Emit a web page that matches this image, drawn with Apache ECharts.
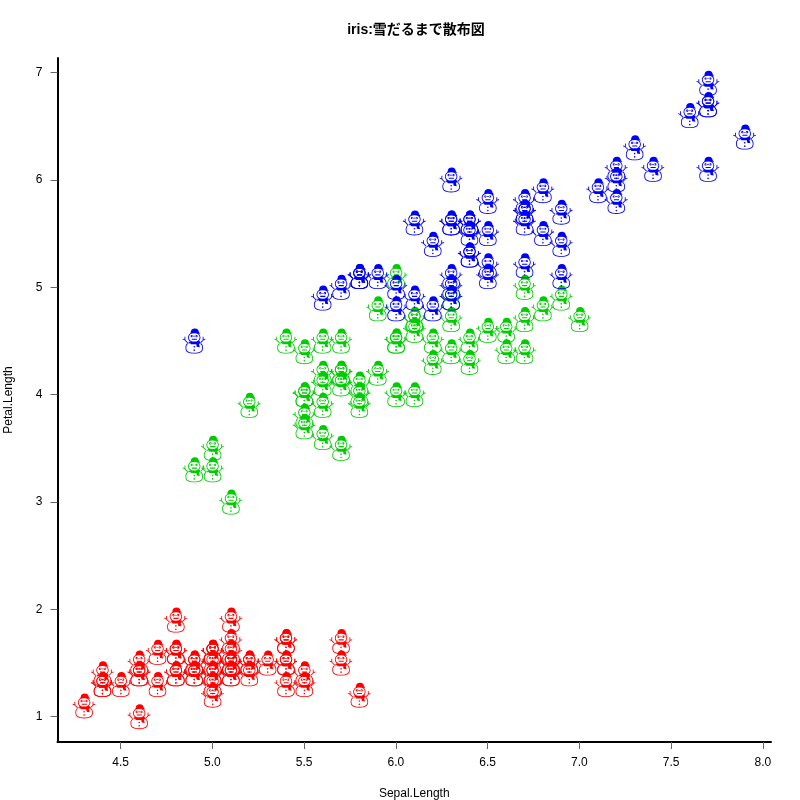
<!DOCTYPE html>
<html>
<head>
<meta charset="utf-8">
<style>html,body{margin:0;padding:0;background:#fff}#c{width:800px;height:800px}</style>
<script src="https://cdn.jsdelivr.net/npm/echarts@6/dist/echarts.min.js"></script>
</head>
<body>
<div id="c"></div>
<script>
const setosaX = [5.1,4.9,4.7,4.6,5.0,5.4,4.6,5.0,4.4,4.9,5.4,4.8,4.8,4.3,5.8,5.7,5.4,5.1,5.7,5.1,5.4,5.1,4.6,5.1,4.8,5.0,5.0,5.2,5.2,4.7,4.8,5.4,5.2,5.5,4.9,5.0,5.5,4.9,4.4,5.1,5.0,4.5,4.4,5.0,5.1,4.8,5.1,4.6,5.3,5.0];
const setosaY = [1.4,1.4,1.3,1.5,1.4,1.7,1.4,1.5,1.4,1.5,1.5,1.6,1.4,1.1,1.2,1.5,1.3,1.4,1.7,1.5,1.7,1.5,1.0,1.7,1.9,1.6,1.6,1.5,1.4,1.6,1.6,1.5,1.5,1.4,1.5,1.2,1.3,1.4,1.3,1.5,1.3,1.3,1.3,1.6,1.9,1.4,1.6,1.4,1.5,1.4];
const versicolorX = [7.0,6.4,6.9,5.5,6.5,5.7,6.3,4.9,6.6,5.2,5.0,5.9,6.0,6.1,5.6,6.7,5.6,5.8,6.2,5.6,5.9,6.1,6.3,6.1,6.4,6.6,6.8,6.7,6.0,5.7,5.5,5.5,5.8,6.0,5.4,6.0,6.7,6.3,5.6,5.5,5.5,6.1,5.8,5.0,5.6,5.7,5.7,6.2,5.1,5.7];
const versicolorY = [4.7,4.5,4.9,4.0,4.6,4.5,4.7,3.3,4.6,3.9,3.5,4.2,4.0,4.7,3.6,4.4,4.5,4.1,4.5,3.9,4.8,4.0,4.9,4.7,4.3,4.4,4.8,5.0,4.5,3.5,3.8,3.7,3.9,5.1,4.5,4.5,4.7,4.4,4.1,4.0,4.4,4.6,4.0,3.3,4.2,4.2,4.2,4.3,3.0,4.1];
const virginicaX = [6.3,5.8,7.1,6.3,6.5,7.6,4.9,7.3,6.7,7.2,6.5,6.4,6.8,5.7,5.8,6.4,6.5,7.7,7.7,6.0,6.9,5.6,7.7,6.3,6.7,7.2,6.2,6.1,6.4,7.2,7.4,7.9,6.4,6.3,6.1,7.7,6.3,6.4,6.0,6.9,6.7,6.9,5.8,6.8,6.7,6.7,6.3,6.5,6.2,5.9];
const virginicaY = [6.0,5.1,5.9,5.6,5.8,6.6,4.5,6.3,5.8,6.1,5.1,5.3,5.5,5.0,5.1,5.3,5.5,6.7,6.9,5.0,5.7,4.9,6.7,4.9,5.7,6.0,4.8,4.9,5.6,5.8,6.1,6.4,5.6,5.1,5.6,6.1,5.6,5.5,4.8,5.4,5.6,5.1,5.1,5.9,5.7,5.2,5.0,5.2,5.4,5.1];
const xTicks = [4.5,5,5.5,6,6.5,7,7.5,8];
const xTickLabels = ['4.5','5.0','5.5','6.0','6.5','7.0','7.5','8.0'];
const yTicks = [1,2,3,4,5,6,7];
const titleText = 'iris:雪だるまで散布図';
const xName = 'Sepal.Length';
const yName = 'Petal.Length';
const colors = {setosa:'#ff0000', versicolor:'#00cd00', virginica:'#0000ff'};

// Snowman glyph, drawn in a 22 x 24 box as one filled outline.
function blob(cx, cy, rx, ry, k, rev) {
  const a = rx * k, b = ry * k;
  const f = (x, y) => `${cx + x} ${cy + y}`;
  return rev
    ? `M${f(-rx,0)}C${f(-rx,b)} ${f(-a,ry)} ${f(0,ry)}C${f(a,ry)} ${f(rx,b)} ${f(rx,0)}C${f(rx,-b)} ${f(a,-ry)} ${f(0,-ry)}C${f(-a,-ry)} ${f(-rx,-b)} ${f(-rx,0)}Z`
    : `M${f(-rx,0)}C${f(-rx,-b)} ${f(-a,-ry)} ${f(0,-ry)}C${f(a,-ry)} ${f(rx,-b)} ${f(rx,0)}C${f(rx,b)} ${f(a,ry)} ${f(0,ry)}C${f(-a,ry)} ${f(-rx,b)} ${f(-rx,0)}Z`;
}
function ring(cx, cy, rx, ry, w, k) {
  return blob(cx, cy, rx, ry, k, false) + blob(cx, cy, rx - w, ry - w, k, true);
}
function dot(cx, cy, r) { return blob(cx, cy, r, r, 0.56, false); }
function seg(x1, y1, x2, y2, w) {
  const dx = x2-x1, dy = y2-y1, l = Math.hypot(dx,dy), nx = -dy/l*w/2, ny = dx/l*w/2;
  return `M${x1+nx} ${y1+ny}L${x2+nx} ${y2+ny}L${x2-nx} ${y2-ny}L${x1-nx} ${y1-ny}Z`;
}
const snowman = 'path://' + [
  ring(11.2, 18.4, 8.5, 5.6, 0.8, 0.72),    // body
  ring(11.2, 8.6, 6, 4.8, 0.8, 0.62),       // head
  'M7.2 5.4L7.8 3.6C8 1.2 9.2 0 11.8 0C14.4 0 15.4 1.4 15.8 3.6L17.2 5.4C14 4 10.4 4 7.2 5.4Z', // hat
  'M6.2 12.4L11 13.6L16.6 12L17 14.2L15.8 14.8L16.6 18L13.6 17.6L13.2 15.2L8 15.2Z', // scarf
  dot(8.8, 7.4, 1.1), dot(13.4, 7.4, 1.1), seg(8.8, 7.4, 13.4, 7.4, 0.6), // eyes
  seg(8.8, 10.4, 13.8, 10.4, 1),            // mouth
  dot(11.2, 17.6, 0.8), dot(11.2, 20.8, 0.8), // buttons
  seg(5.6, 14.6, 1.6, 10.6, 0.85), seg(1.9, 10.9, 0, 10.2, 0.85), seg(2.2, 11.2, 2.2, 8, 0.85), // left arm
  seg(16.6, 14.6, 20.4, 10.6, 0.85), seg(20.1, 10.9, 22, 10.2, 0.85), seg(19.8, 11.2, 19.8, 8, 0.85) // right arm
].join('');

const pairs = (xs, ys) => xs.map((x, i) => [x, ys[i]]);
const mkSeries = (name, xs, ys) => ({
  name, type: 'scatter', data: pairs(xs, ys),
  symbol: snowman, symbolSize: [23, 25], symbolKeepAspect: false,
  itemStyle: {color: colors[name], opacity: 1, borderWidth: 0},
  emphasis: {disabled: true}, silent: true, animation: false, clip: false
});
const font = 'Liberation Sans';
const tickColor = '#666';
const chart = echarts.init(document.getElementById('c'), null, {renderer: 'canvas'});
chart.setOption({
  animation: false,
  backgroundColor: '#fff',
  title: {text: titleText, left: 411, top: 18, textAlign: 'center',
    textStyle: {fontFamily: font + ', "Noto Sans CJK JP"', fontSize: 14, fontWeight: 'bold', color: '#000'}},
  grid: {left: 57.5, right: 29, top: 58, bottom: 58, containLabel: false, outerBoundsMode: 'none'},
  xAxis: {
    type: 'value', min: 4.156, max: 8.044,
    name: xName, nameLocation: 'middle', nameGap: 46,
    nameTextStyle: {fontFamily: font, fontSize: 12, color: '#000'},
    axisLine: {onZero: false, lineStyle: {color: '#000', width: 2}},
    axisTick: {length: 7, customValues: xTicks, lineStyle: {color: tickColor, width: 1}},
    axisLabel: {customValues: xTicks, margin: 15, fontFamily: font, fontSize: 12, color: '#000',
      formatter: v => xTickLabels[xTicks.indexOf(v)]},
    splitLine: {show: false}
  },
  yAxis: {
    type: 'value', min: 0.764, max: 7.136,
    name: yName, nameLocation: 'middle', nameGap: 43, nameRotate: 90,
    nameTextStyle: {fontFamily: font, fontSize: 12, color: '#000'},
    axisLine: {onZero: false, lineStyle: {color: '#000', width: 2}},
    axisTick: {length: 7, customValues: yTicks, lineStyle: {color: tickColor, width: 1}},
    axisLabel: {customValues: yTicks, margin: 15, fontFamily: font, fontSize: 12, color: '#000'},
    splitLine: {show: false}
  },
  series: [
    mkSeries('setosa', setosaX, setosaY),
    mkSeries('versicolor', versicolorX, versicolorY),
    mkSeries('virginica', virginicaX, virginicaY)
  ]
});
</script>
</body>
</html>
